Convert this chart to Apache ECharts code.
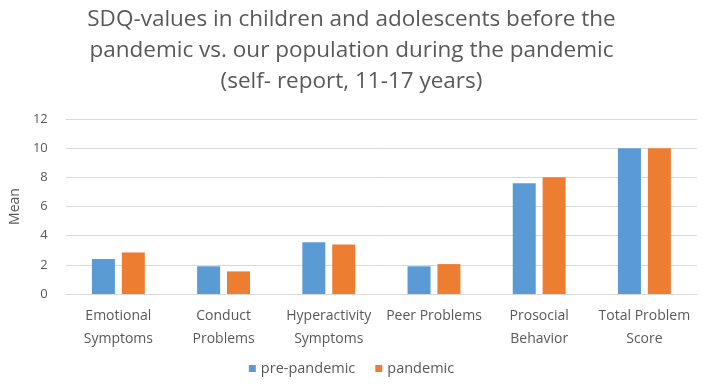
<!DOCTYPE html>
<html>
<head>
<meta charset="utf-8">
<script src="https://cdn.jsdelivr.net/npm/echarts@6/dist/echarts.min.js"></script>
<style>
  html, body { margin: 0; padding: 0; background: #fff; }
  #main { width: 703px; height: 387px; }
</style>
</head>
<body>
<div id="main"></div>
<script>
// SDQ 量表类别
const categories = [
  "Emotional\nSymptoms",
  "Conduct\nProblems",
  "Hyperactivity\nSymptoms",
  "Peer Problems",
  "Prosocial\nBehavior",
  "Total Problem\nScore"
];
// 疫情前 / 疫情期间 均值
const prePandemic = [2.4, 1.9, 3.55, 1.9, 7.6, 10.0];
const pandemic = [2.85, 1.55, 3.4, 2.05, 8.0, 10.0];
const seriesNames = ["pre-pandemic", "pandemic"];

const textColor = "#595959";
const font = "Open Sans";

let chart = echarts.init(document.getElementById("main"));
chart.setOption({
  animation: false,
  title: {
    text: "SDQ-values in children and adolescents before the\npandemic vs. our population during the pandemic\n(self- report, 11-17 years)",
    left: "center",
    top: -1,
    textStyle: {
      fontFamily: font,
      fontSize: 22.5,
      fontWeight: "normal",
      color: textColor,
      lineHeight: 31
    }
  },
  legend: {
    bottom: 6,
    left: "center",
    itemWidth: 7,
    itemHeight: 7,
    itemGap: 20,
    icon: "rect",
    textStyle: { fontFamily: font, fontSize: 14.5, color: textColor }
  },
  grid: { left: 60, right: 6, top: 119, bottom: 93 },
  xAxis: {
    type: "category",
    data: categories,
    axisTick: { show: false },
    axisLine: { lineStyle: { color: "#d9d9d9" } },
    axisLabel: {
      interval: 0,
      margin: 11,
      fontFamily: font,
      fontSize: 14,
      lineHeight: 23,
      color: textColor
    }
  },
  yAxis: {
    type: "value",
    min: 0,
    max: 12,
    interval: 2,
    name: "Mean",
    nameLocation: "middle",
    nameGap: 40,
    nameTextStyle: { fontFamily: font, fontSize: 14, color: textColor },
    axisLine: { show: false },
    axisTick: { show: false },
    axisLabel: { fontFamily: font, fontSize: 13, color: textColor, margin: 18 },
    splitLine: { lineStyle: { color: "#d9d9d9" } }
  },
  series: [
    {
      name: seriesNames[0],
      type: "bar",
      data: prePandemic,
      barWidth: 23,
      barGap: "30%",
      itemStyle: { color: "#5b9bd5" }
    },
    {
      name: seriesNames[1],
      type: "bar",
      data: pandemic,
      barWidth: 23,
      itemStyle: { color: "#ed7d31" }
    }
  ]
});
</script>
</body>
</html>
